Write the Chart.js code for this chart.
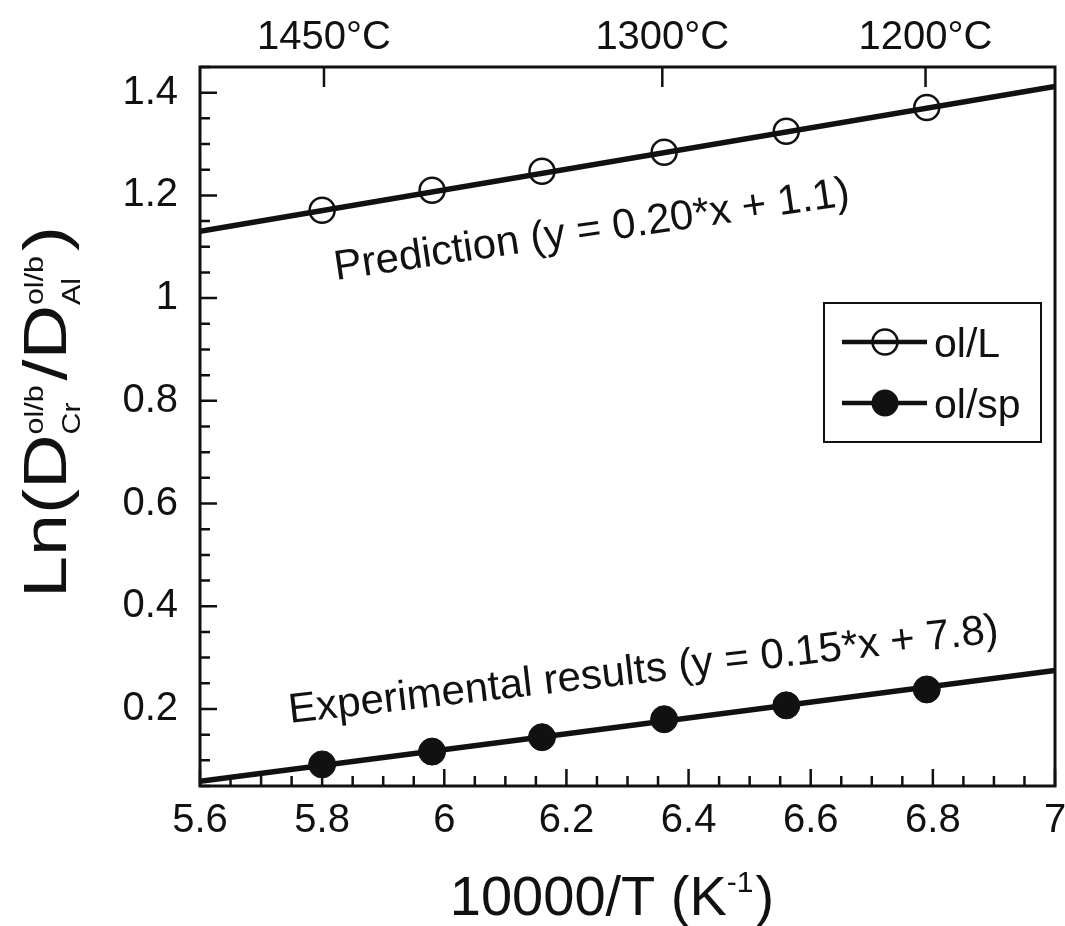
<!DOCTYPE html>
<html>
<head>
<meta charset="utf-8">
<script src="https://cdn.jsdelivr.net/npm/chart.js@4.4.1/dist/chart.umd.min.js"></script>
<style>
	body { margin: 0; background: #fff; }
	#wrap { width: 1065px; height: 926px; }
</style>
</head>
<body>
<div id="wrap"><canvas id="mycanvas" width="1065" height="926"></canvas></div>
<script>
// 10000/T values of the six runs (1450 .. 1200 C)
var invT = [5.80, 5.98, 6.16, 6.36, 6.56, 6.79];
// ol/L (prediction) and ol/sp (experiment)
var olL = [1.171, 1.210, 1.247, 1.284, 1.325, 1.371];
var olSp = [0.092, 0.117, 0.145, 0.180, 0.207, 0.238];
// fitted lines, end points at the axis limits
var fitX = [5.6, 7.0];
var predY = [1.130, 1.412];
var expY = [0.059, 0.275];

var xTicks = [5.6, 5.8, 6.0, 6.2, 6.4, 6.6, 6.8, 7.0];
var yTicks = [0.2, 0.4, 0.6, 0.8, 1.0, 1.2, 1.4];
var topTemps = [1450, 1300, 1200];
var topTickPos = [5.803, 6.357, 6.788];

var mainFont = "'Liberation Sans', Arial, Helvetica, sans-serif";
var ink = '#111';

function pts(xs, ys) {
	var out = [];
	for (var i in xs) {
		out.push({x: xs[i], y: ys[i]});
	}
	return out;
}

// draws text with stacked sub/superscripts, returns width (or just measures)
function richText(ctx, parts, x, y, draw) {
	var cx = x;
	for (var i = 0; i < parts.length; i++) {
		var p = parts[i];
		if (p.t) {
			ctx.font = p.size + 'px ' + mainFont;
			if (draw) ctx.fillText(p.t, cx, y + (p.dy || 0));
			cx += ctx.measureText(p.t).width;
		} else {
			ctx.font = p.size + 'px ' + mainFont;
			var w1 = p.sub ? ctx.measureText(p.sub).width : 0;
			var w2 = p.sup ? ctx.measureText(p.sup).width : 0;
			if (draw) {
				if (p.sub) ctx.fillText(p.sub, cx, y + p.subDy);
				if (p.sup) ctx.fillText(p.sup, cx + (p.supDx || 0), y + p.supDy);
			}
			cx += Math.max(w1, w2 + (p.supDx || 0)) + (p.gap || 0);
		}
	}
	return cx - x;
}

var decorPlugin = {
	id: 'decor',
	afterDraw: function(chart) {
		var ctx = chart.ctx;
		var a = chart.chartArea;
		var xs = chart.scales.x, ys = chart.scales.y;
		ctx.save();
		ctx.strokeStyle = ink;
		ctx.fillStyle = ink;

		// frame
		ctx.lineWidth = 3;
		ctx.strokeRect(a.left, a.top, a.right - a.left, a.bottom - a.top);

		// inward ticks
		ctx.lineWidth = 2.5;
		ctx.beginPath();
		for (var i = 0; i <= 28; i++) {
			var px = xs.getPixelForValue(5.6 + i * 0.05);
			var len = (i % 4 == 0) ? 17 : 10;
			ctx.moveTo(px, a.bottom);
			ctx.lineTo(px, a.bottom - len);
		}
		for (var j = 0; j <= 28; j++) {
			var py = ys.getPixelForValue(0.05 + j * 0.05);
			var len2 = ((j + 1) % 4 == 0) ? 17 : 10;
			ctx.moveTo(a.left, py);
			ctx.lineTo(a.left + len2, py);
		}
		for (var k = 0; k < topTickPos.length; k++) {
			var tx = xs.getPixelForValue(topTickPos[k]);
			ctx.moveTo(tx, a.top);
			ctx.lineTo(tx, a.top + 20);
		}
		ctx.stroke();

		// line labels
		ctx.textBaseline = 'alphabetic';
		ctx.textAlign = 'left';
		ctx.font = '42px ' + mainFont;
		ctx.save();
		ctx.translate(336, 280);
		ctx.rotate(-8.3 * Math.PI / 180);
		ctx.fillText('Prediction (y = 0.20*x + 1.1)', 0, 0);
		ctx.restore();
		ctx.save();
		ctx.translate(290, 723);
		ctx.rotate(-6.5 * Math.PI / 180);
		ctx.fillText('Experimental results (y = 0.15*x + 7.8)', 0, 0);
		ctx.restore();

		// legend
		ctx.lineWidth = 2;
		ctx.strokeRect(824, 303, 217, 139);
		var rows = [{y: 342, label: 'ol/L', filled: false}, {y: 403, label: 'ol/sp', filled: true}];
		rows.forEach(function(r) {
			ctx.lineWidth = 4.5;
			ctx.beginPath();
			ctx.moveTo(842, r.y);
			ctx.lineTo(927, r.y);
			ctx.stroke();
			ctx.beginPath();
			ctx.arc(885, r.y, r.filled ? 13.5 : 12.5, 0, Math.PI * 2);
			if (r.filled) {
				ctx.fill();
			} else {
				ctx.lineWidth = 2.5;
				ctx.stroke();
			}
			ctx.font = '41px ' + mainFont;
			ctx.fillText(r.label, 934, r.y + 15);
		});

		// x title
		var xParts = [
			{t: '10000/T (K', size: 56},
			{sup: '-1', size: 30, supDy: -23, gap: 2},
			{t: ')', size: 56}
		];
		var wx = richText(ctx, xParts, 0, 0, false);
		richText(ctx, xParts, 612 - wx / 2, 915, true);

		// y title, rotated
		var yParts = [
			{t: 'Ln(D', size: 62},
			{sub: 'Cr', sup: 'ol/b', size: 25, subDy: 14, supDy: -23, gap: 4},
			{t: '/D', size: 62},
			{sub: 'Al', sup: 'ol/b', size: 25, subDy: 14, supDy: -23, gap: 4},
			{t: ')', size: 62}
		];
		var wy = richText(ctx, yParts, 0, 0, false);
		ctx.save();
		ctx.translate(66, 598);
		ctx.rotate(-Math.PI / 2);
		ctx.scale(372 / wy, 1);
		richText(ctx, yParts, 0, 0, true);
		ctx.restore();

		ctx.restore();
	}
};

var chartdata = {
	datasets: [
		{
			label: 'ol/L',
			data: pts(invT, olL),
			showLine: false,
			pointStyle: 'circle',
			pointRadius: 12.5,
			pointBorderWidth: 2.5,
			pointBackgroundColor: 'rgba(0,0,0,0)',
			pointBorderColor: ink
		},
		{
			label: 'ol/sp',
			data: pts(invT, olSp),
			showLine: false,
			pointStyle: 'circle',
			pointRadius: 13.5,
			pointBorderWidth: 1,
			pointBackgroundColor: ink,
			pointBorderColor: ink
		},
		{
			label: 'Prediction fit',
			data: pts(fitX, predY),
			showLine: true,
			pointRadius: 0,
			borderWidth: 5.5,
			borderColor: ink
		},
		{
			label: 'Experimental fit',
			data: pts(fitX, expY),
			showLine: true,
			pointRadius: 0,
			borderWidth: 5.5,
			borderColor: ink
		}
	]
};

var ctx = document.getElementById('mycanvas');

var noEdgePad = function(scale) {
	scale.paddingLeft = 0;
	scale.paddingRight = 0;
};

var scatterGraph = new Chart(ctx, {
	type: 'scatter',
	data: chartdata,
	plugins: [decorPlugin],
	options: {
		responsive: false,
		animation: false,
		layout: { autoPadding: false, padding: { left: 0, right: 10, top: 0, bottom: 0 } },
		plugins: {
			legend: { display: false },
			tooltip: { enabled: false }
		},
		scales: {
			x: {
				type: 'linear',
				position: 'bottom',
				min: 5.6,
				max: 7,
				afterBuildTicks: function(scale) {
					scale.ticks = xTicks.map(function(v) { return {value: v}; });
				},
				afterFit: function(scale) { scale.height = 140; noEdgePad(scale); },
				grid: { display: false, drawTicks: false },
				border: { display: false },
				ticks: {
					autoSkip: false,
					maxRotation: 0,
					padding: 11,
					color: ink,
					font: { family: mainFont, size: 40 },
					callback: function(value) { return String(Math.round(value * 10) / 10); }
				}
			},
			xTop: {
				type: 'linear',
				axis: 'x',
				position: 'top',
				min: 5.6,
				max: 7,
				afterBuildTicks: function(scale) {
					scale.ticks = topTickPos.map(function(v) { return {value: v}; });
				},
				afterFit: function(scale) { scale.height = 67; noEdgePad(scale); },
				grid: { display: false, drawTicks: false },
				border: { display: false },
				ticks: {
					autoSkip: false,
					maxRotation: 0,
					padding: 5,
					color: ink,
					font: { family: mainFont, size: 40 },
					callback: function(value, index) { return topTemps[index] + '\u00B0C'; }
				}
			},
			y: {
				type: 'linear',
				min: 0.05,
				max: 1.45,
				afterBuildTicks: function(scale) {
					scale.ticks = yTicks.map(function(v) { return {value: v}; });
				},
				afterFit: function(scale) { scale.width = 200; scale.paddingTop = 0; scale.paddingBottom = 0; },
				grid: { display: false, drawTicks: false },
				border: { display: false },
				ticks: {
					padding: 22,
					color: ink,
					font: { family: mainFont, size: 40 },
					callback: function(value) { return String(Math.round(value * 10) / 10); }
				}
			}
		}
	}
});
</script>
</body>
</html>
